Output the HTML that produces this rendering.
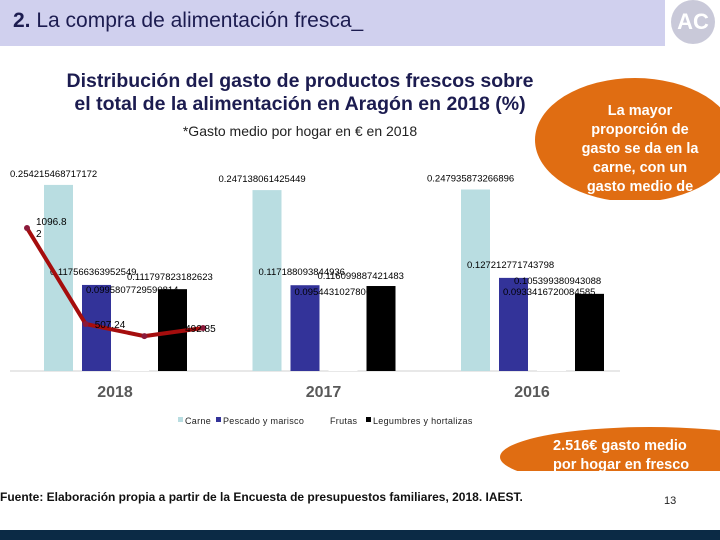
<!DOCTYPE html>
<html><head><meta charset="utf-8"><style>
body{margin:0;width:720px;height:540px;overflow:hidden;background:#fff;font-family:"Liberation Sans",sans-serif;position:relative}
.a{position:absolute;white-space:nowrap}
</style></head><body>
<div class="a" style="left:0;top:0;width:665px;height:46px;background:#d0d0ee"></div>
<div class="a" style="left:13px;top:9px;font-size:21px;color:#1c1c50"><b>2.</b> La compra de alimentación fresca_</div>
<div class="a" style="left:671px;top:0;width:44px;height:44px;border-radius:50%;background:#c9c9d9;color:#fff;font-weight:bold;font-size:22px;text-align:center;line-height:44px">AC</div>
<div class="a" style="left:0px;top:70px;width:600px;text-align:center;font-size:19.5px;font-weight:bold;color:#1c1c50;line-height:23px">Distribución del gasto de productos frescos sobre<br>el total de la alimentación en Aragón en 2018 (%)</div>
<div class="a" style="left:40px;top:123px;width:520px;text-align:center;font-size:14px;color:#222">*Gasto medio por hogar en € en 2018</div>
<div class="a" style="left:535px;top:78px;width:190px;height:122px;overflow:hidden">
 <div style="position:absolute;left:0;top:0;width:200px;height:124px;border-radius:50%;background:#e06d12"></div>
 <div style="position:absolute;left:40px;top:24px;width:130px;text-align:center;color:#fff;font-weight:bold;font-size:14.5px;line-height:19px;white-space:normal">La mayor proporción de gasto se da en la carne, con un gasto medio de 1.096,82€</div>
</div>
<svg class="a" style="left:0;top:0" width="720" height="540" id="svg"></svg>
<div class="a" style="left:500px;top:427px;width:220px;height:44px;overflow:hidden">
 <div style="position:absolute;left:0;top:0;width:300px;height:60px;border-radius:50%;background:#e06d12"></div>
 <div style="position:absolute;left:53px;top:10px;color:#fff;font-weight:bold;font-size:14.5px;line-height:19px">2.516€ gasto medio<br>por hogar en fresco</div>
</div>
<div class="a" style="left:0;top:490px;font-size:12px;font-weight:bold;color:#111">Fuente: Elaboración propia a partir de la Encuesta de presupuestos familiares, 2018. IAEST.</div>
<div class="a" style="left:664px;top:495px;font-size:11px;color:#222">13</div>
<div class="a" style="left:0;top:530px;width:720px;height:10px;background:#0b2a45"></div>
<script>
const years=["2018","2017","2016"];
const series=["Carne","Pescado y marisco","Frutas","Legumbres y hortalizas"];
const carne=[0.254215468717172,0.247138061425449,0.247935873266896];
const pescado=[0.117566363952549,0.117188093844936,0.127212771743798];
const frutas=[0.0995807729590814,0.0954431027806,0.0933416720084585];
const legumbres=[0.111797823182623,0.116099887421483,0.105399380943088];
const gastoLabels=["1096.8\n2","507.24","","492.85"];
const gasto=[1096.82,507.24,433,482.85];
const svg=document.getElementById('svg');const NS='http://www.w3.org/2000/svg';
function mk(t,a,p){const e=document.createElementNS(NS,t);for(const k in a)e.setAttribute(k,a[k]);(p||svg).appendChild(e);return e;}
const base=371,k=732;
const y=v=>base-v*k;
const gx=i=>44+i*208.5;
const ly=v=>406.6-v*0.1628;
const colors=["#b9dde1","#333399","#ffffff","#000000"];
const data=[carne,pescado,frutas,legumbres];
const ax=mk('line',{x1:10,x2:620,y1:base,y2:base,stroke:'#d0d0d0','stroke-width':1});

data.forEach((s,si)=>s.forEach((v,i)=>{
 const x=gx(i)+si*38;
 const r=mk('rect',{x:x,y:y(v),width:29,height:base-y(v),fill:colors[si]});
 
 
}));
data.forEach((s,si)=>s.forEach((v,i)=>{
 const x=gx(i)+si*38;let tx,ty;
 if(si==0){tx=gx(i)-34;ty=y(v)-8;}
 else if(si==1){tx=x-32;ty=y(v)-10;}
 else if(si==2){tx=gx(i)+42;ty=(i==0?293:295);}
 else{
  if(i==0){tx=x-31;ty=y(v)-9;}
  else if(i==1){tx=gx(1)+65;ty=279;}
  else{tx=gx(2)+53;ty=y(v)-10;}
 }
 const t=mk('text',{x:tx,y:ty,'font-size':9.5,fill:'#000','font-family':'Liberation Sans'});t.textContent=String(v);
 
}));
const pts=gasto.map((v,i)=>[27+i*58.7,ly(v)]);
const pl=mk('polyline',{points:pts.map(p=>p.join(',')).join(' '),fill:'none',stroke:'#a50d0d','stroke-width':4,'stroke-linejoin':'round'});

pts.forEach((p,i)=>{const c=mk('circle',{cx:p[0],cy:p[1],r:3,fill:'#8b1a3a'});
 
 const parts=gastoLabels[i].split('\n');
 parts.forEach((s,j)=>{const t=mk('text',{x:p[0]+(i==3?-18:9),y:p[1]+(i==0?-3+j*12:4),'font-size':10,fill:'#000','font-family':'Liberation Sans'});
  t.textContent=s;});
});
years.forEach((yr,i)=>{const t=mk('text',{x:gx(i)+71,y:397,'font-size':16,'font-weight':'bold',fill:'#595959','text-anchor':'middle','font-family':'Liberation Sans'});t.textContent=yr;
 });
const lx=[178,216,330,366];
series.forEach((s,i)=>{
 if(i!=2){const r=mk('rect',{x:lx[i],y:417,width:5,height:5,fill:colors[i]});}
 const t=mk('text',{x:lx[i]+(i==2?0:7),y:424,'font-size':9,fill:'#222','font-family':'Liberation Sans','letter-spacing':'0.3'});t.textContent=s;
 });
</script>
</body></html>
